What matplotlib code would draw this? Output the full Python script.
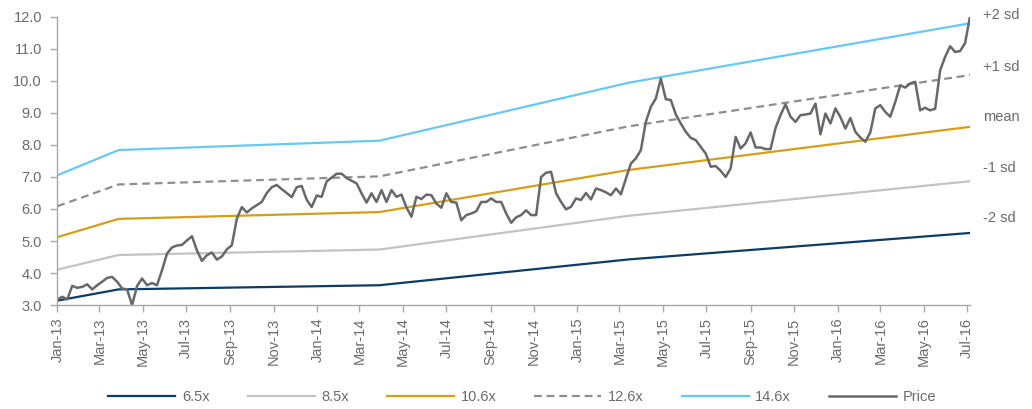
import numpy as np
import pandas as pd
import matplotlib
matplotlib.use("Agg")
import matplotlib.pyplot as plt
import matplotlib.dates as mdates
import matplotlib.transforms as mtransforms

# weekly price
price_start = "2013-01-01"
price = [3.18, 3.26, 3.18, 3.60, 3.54, 3.57, 3.65, 3.49, 3.62, 3.73,
         3.85, 3.88, 3.73, 3.52, 3.49, 3.00, 3.60, 3.83, 3.62, 3.69,
         3.62, 4.09, 4.61, 4.80, 4.86, 4.88, 5.02, 5.15, 4.71, 4.38,
         4.56, 4.64, 4.42, 4.52, 4.74, 4.87, 5.70, 6.06, 5.89, 6.02,
         6.12, 6.22, 6.50, 6.68, 6.75, 6.62, 6.50, 6.37, 6.68, 6.72,
         6.29, 6.06, 6.42, 6.38, 6.86, 6.98, 7.10, 7.10, 6.97, 6.88,
         6.80, 6.49, 6.20, 6.49, 6.22, 6.59, 6.22, 6.59, 6.38, 6.45,
         6.05, 5.76, 6.38, 6.31, 6.45, 6.43, 6.17, 6.04, 6.49, 6.22,
         6.20, 5.65, 5.81, 5.86, 5.93, 6.22, 6.22, 6.33, 6.22, 6.22,
         5.86, 5.57, 5.74, 5.81, 5.96, 5.81, 5.81, 7.00, 7.13, 7.16,
         6.49, 6.22, 5.99, 6.07, 6.33, 6.28, 6.50, 6.30, 6.64, 6.59,
         6.52, 6.43, 6.64, 6.46, 6.95, 7.42, 7.58, 7.84, 8.72, 9.19,
         9.45, 10.07, 9.43, 9.40, 8.95, 8.67, 8.41, 8.22, 8.15, 7.94,
         7.73, 7.32, 7.34, 7.19, 7.00, 7.27, 8.25, 7.89, 8.05, 8.39,
         7.92, 7.92, 7.87, 7.87, 8.53, 8.93, 9.27, 8.88, 8.72, 8.93,
         8.95, 8.98, 9.29, 8.33, 8.98, 8.67, 9.14, 8.87, 8.51, 8.84,
         8.41, 8.23, 8.10, 8.39, 9.14, 9.24, 9.03, 8.88, 9.34, 9.86,
         9.79, 9.92, 9.97, 9.08, 9.16, 9.08, 9.13, 10.33, 10.75, 11.08,
         10.90, 10.93, 11.18, 12.02]

# forward earnings knots behind the PE bands
eps_dates = ["2013-01-01", "2013-03-28", "2014-03-29", "2015-03-14", "2016-07-05"]
eps_values = [0.483, 0.537, 0.557, 0.681, 0.808]

multiples = [6.5, 8.5, 10.6, 12.6, 14.6]
band_labels = ["6.5x", "8.5x", "10.6x", "12.6x", "14.6x"]
sd_labels = ["-2 sd", "-1 sd", "mean", "+1 sd", "+2 sd"]
sd_label_y = [5.71, 7.27, 8.86, 10.44, 12.05]

band_colors = ["#0b3c68", "#c3c3c3", "#d59e17", "#8e8e90", "#66c9f5"]
price_color = "#67686b"
text_color = "#6b6b6b"
axis_color = "#a8a8a8"

dates = pd.date_range(price_start, periods=len(price), freq="7D")
eps_dates = pd.to_datetime(eps_dates)

plt.rcParams['font.family'] = ['Liberation Sans', 'DejaVu Sans']
plt.rcParams['font.size'] = 10.5

fig = plt.figure(figsize=(10.32, 4.09), dpi=100)
ax = fig.add_axes([0.0555, 0.254, 0.8845, 0.705])

handles = []
for m, lab, col in zip(multiples, band_labels, band_colors):
    band = np.array(eps_values) * m
    if lab == "12.6x":
        ln, = ax.plot(eps_dates, band, color=col, lw=1.6, dashes=(3.5, 2.2), label=lab)
    else:
        ln, = ax.plot(eps_dates, band, color=col, lw=1.6, label=lab)
    handles.append(ln)

pl, = ax.plot(dates, price, color=price_color, lw=1.8, label="Price")
handles.append(pl)

ax.set_xlim(dates[0], dates[-1])
ax.set_ylim(3.0, 12.0)
ax.set_yticks(np.arange(3, 12.5, 1.0))
ax.yaxis.set_major_formatter(matplotlib.ticker.FormatStrFormatter('%.1f'))
ax.xaxis.set_major_locator(mdates.MonthLocator(bymonth=[1, 3, 5, 7, 9, 11]))
ax.xaxis.set_major_formatter(mdates.DateFormatter('%b-%y'))
plt.setp(ax.get_xticklabels(), rotation=90)

for s in ['top', 'right']:
    ax.spines[s].set_visible(False)
for s in ['left', 'bottom']:
    ax.spines[s].set_color(axis_color)
    ax.spines[s].set_linewidth(1.0)
ax.tick_params(axis='both', colors=axis_color, labelcolor=text_color,
               length=5, width=1.0, labelsize=10.5, direction='out')
ax.tick_params(axis='x', pad=4)
ax.tick_params(axis='y', pad=6)

trans = mtransforms.blended_transform_factory(ax.transAxes, ax.transData)
for lab, yv in zip(sd_labels, sd_label_y):
    ax.text(1.014, yv, lab, transform=trans, color=text_color, fontsize=10.5,
            va='center', ha='left', clip_on=False)

leg = fig.legend(handles=handles, loc='center', bbox_to_anchor=(0.506, 0.03),
                 ncol=6, frameon=False, handlelength=4.6, handletextpad=0.45,
                 columnspacing=2.6, fontsize=10.5)
for t in leg.get_texts():
    t.set_color(text_color)

fig.savefig("out.png", dpi=100)
